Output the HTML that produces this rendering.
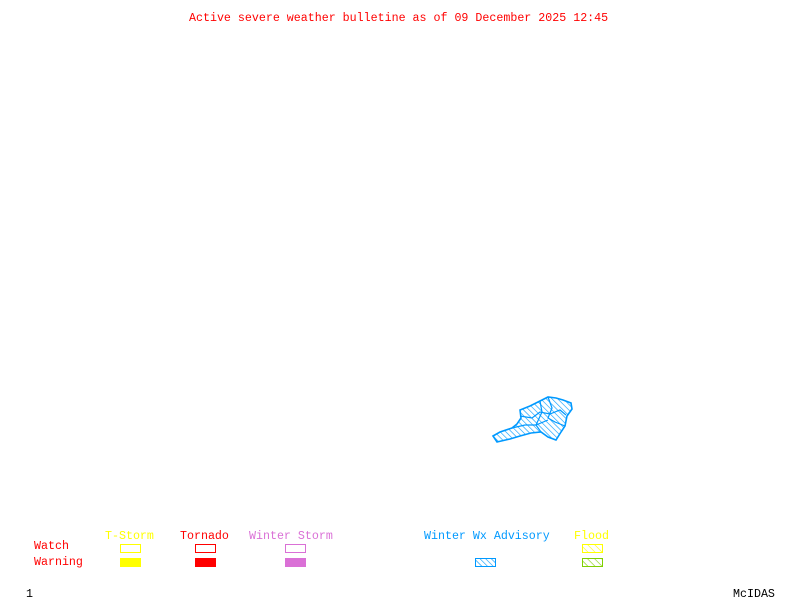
<!DOCTYPE html>
<html><head><style>
html,body{margin:0;padding:0;background:#fff;width:800px;height:600px;overflow:hidden}
.t{position:absolute;font-family:"Liberation Mono",monospace;font-size:11.65px;white-space:pre;line-height:12px}
</style></head><body>
<div class="t" style="left:189px;top:13px;color:#f00">Active severe weather bulletine as of 09 December 2025 12:45</div>
<div class="t" style="left:105px;top:531px;color:#ff0">T-Storm</div>
<div class="t" style="left:180px;top:531px;color:#f00">Tornado</div>
<div class="t" style="left:249px;top:531px;color:#da70d6">Winter Storm</div>
<div class="t" style="left:424px;top:531px;color:#0099ff">Winter Wx Advisory</div>
<div class="t" style="left:574px;top:531px;color:#ff0">Flood</div>
<div class="t" style="left:34px;top:541px;color:#f00">Watch</div>
<div class="t" style="left:34px;top:557px;color:#f00">Warning</div>
<div class="t" style="left:26px;top:589px;color:#000">1</div>
<div class="t" style="left:733px;top:589px;color:#000">McIDAS</div>
<svg width="800" height="600" style="position:absolute;left:0;top:0">
<defs>
<pattern id="hb" width="4" height="4" patternUnits="userSpaceOnUse" patternTransform="rotate(-45)"><line x1="0" y1="0" x2="0" y2="4" stroke="#0099ff" stroke-width="1.2"/></pattern>
<pattern id="hy" width="5" height="5" patternUnits="userSpaceOnUse" patternTransform="rotate(-45)"><line x1="0" y1="0" x2="0" y2="5" stroke="#ff0" stroke-width="1.2"/></pattern>
<pattern id="hg" width="5" height="5" patternUnits="userSpaceOnUse" patternTransform="rotate(-45)"><line x1="0" y1="0" x2="0" y2="5" stroke="#7fd000" stroke-width="1.2"/></pattern>
</defs>
<rect x="120.5" y="544.5" width="20" height="8" fill="none" stroke="#ff0"/>
<rect x="120" y="558" width="21" height="9" fill="#ff0"/>
<rect x="195.5" y="544.5" width="20" height="8" fill="none" stroke="#f00"/>
<rect x="195" y="558" width="21" height="9" fill="#f00"/>
<rect x="285.5" y="544.5" width="20" height="8" fill="none" stroke="#da70d6"/>
<rect x="285" y="558" width="21" height="9" fill="#da70d6"/>
<rect x="475.5" y="558.5" width="20" height="8" fill="url(#hb)" stroke="#0099ff"/>
<rect x="582.5" y="544.5" width="20" height="8" fill="url(#hy)" stroke="#ff0"/>
<rect x="582.5" y="558.5" width="20" height="8" fill="url(#hg)" stroke="#7fd000"/>
<polygon points="493,436 500,432 512,428 517,424 521,418 520,410 530,406 540,401 548,397 556,398 563,400 571,403 572,409 567,416 565,426 561,432 556,440 548,437 541,432 531,433 520,436 510,439 497,442" fill="url(#hb)" stroke="#0099ff" stroke-width="1.6"/>
<polyline points="520,416 532,418 540,412 550,414 560,410 566,415" fill="none" stroke="#0099ff" stroke-width="1.2"/>
<polyline points="540,401 542,412 536,425 541,432" fill="none" stroke="#0099ff" stroke-width="1.2"/>
<polyline points="548,397 552,408 548,418 555,422 565,426" fill="none" stroke="#0099ff" stroke-width="1.2"/>
<polyline points="512,428 525,425 536,425 548,420" fill="none" stroke="#0099ff" stroke-width="1.2"/>
</svg>
</body></html>
